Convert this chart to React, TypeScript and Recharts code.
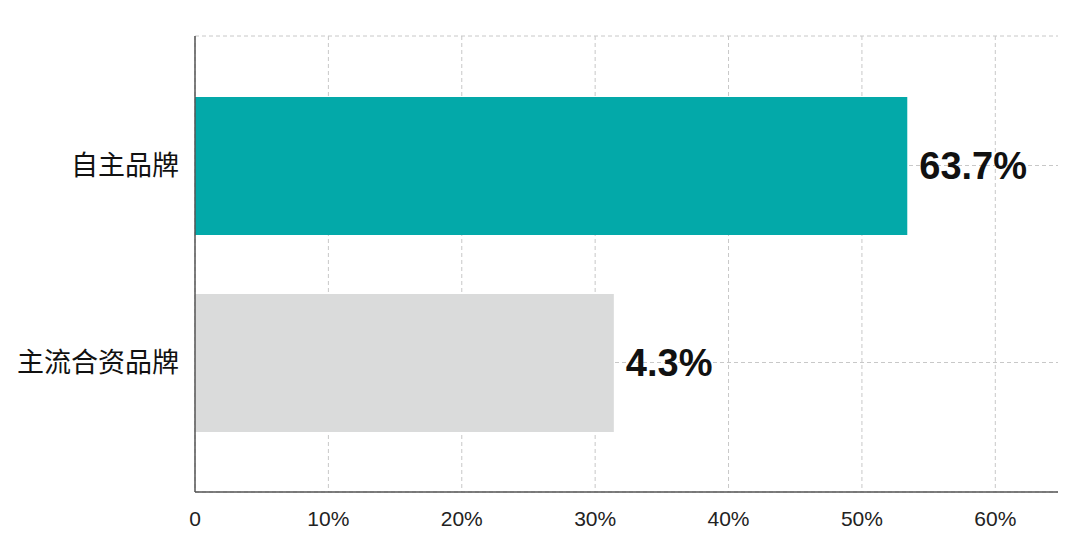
import { Bar, BarChart, CartesianGrid, Cell, LabelList, XAxis, YAxis } from "recharts";

const CATEGORIES = ["自主品牌", "主流合资品牌"];
const BAR_VALUES = [53.4, 31.4];
const BAR_LABELS = ["63.7%", "4.3%"];
const BAR_COLORS = ["#03a9a9", "#dadbdb"];
const X_TICKS = [0, 10, 20, 30, 40, 50, 60];
const X_MAX = 64.7;

const CJK_FONT = "'Noto Sans CJK SC', sans-serif";
const NUM_FONT = "'Liberation Sans', Arial, sans-serif";
const GRID = "#c8c8c8";

const data = CATEGORIES.map((name, i) => ({
  name,
  value: BAR_VALUES[i],
  label: BAR_LABELS[i],
}));

function pct(value: number) {
  return value === 0 ? "0" : `${value}%`;
}

export default function App() {
  return (
    <div style={{ position: "absolute", left: 0, top: 0, width: 1080, height: 540, background: "#fff" }}>
      <BarChart
        width={1080}
        height={540}
        data={data}
        layout="vertical"
        margin={{ top: 36, right: 22, bottom: 0, left: 0 }}
      >
        {/* horizontal: top edge + category centres; vertical: only at the labelled ticks */}
        <CartesianGrid stroke={GRID} strokeDasharray="4 3" vertical={false} />
        <CartesianGrid stroke={GRID} strokeDasharray="4 3" horizontal={false} syncWithTicks />
        <XAxis
          type="number"
          domain={[0, X_MAX]}
          ticks={X_TICKS}
          tickFormatter={(v) => pct(Number(v))}
          height={48}
          tickLine={false}
          tickSize={6}
          tickMargin={13}
          axisLine={{ stroke: "#555", strokeWidth: 1.5 }}
          tick={{ fontSize: 21, fill: "#222", fontFamily: NUM_FONT }}
          interval={0}
        />
        <YAxis
          type="category"
          dataKey="name"
          width={195}
          padding={{ top: 31, bottom: 31 }}
          tickLine={false}
          tickSize={6}
          tickMargin={10}
          axisLine={{ stroke: "#555", strokeWidth: 1.5 }}
          tick={{ fontSize: 27, fill: "#111", fontFamily: CJK_FONT }}
        />
        <Bar dataKey="value" barSize={138} isAnimationActive={false}>
          {data.map((d, i) => (
            <Cell key={d.name} fill={BAR_COLORS[i]} />
          ))}
          <LabelList
            dataKey="label"
            position="right"
            offset={12}
            fill="#111"
            fontSize={38}
            fontWeight={700}
            fontFamily={NUM_FONT}
          />
        </Bar>
      </BarChart>
    </div>
  );
}
